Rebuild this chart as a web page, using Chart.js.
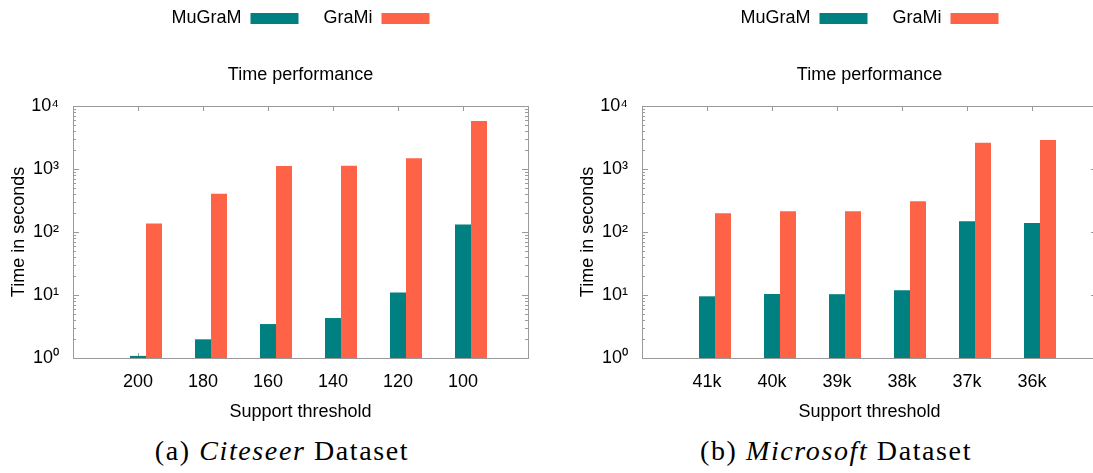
<!DOCTYPE html>
<html>
<head>
<meta charset="utf-8">
<script src="https://cdn.jsdelivr.net/npm/chart.js@4.4.1/dist/chart.umd.min.js"></script>
<style>
  html, body { margin: 0; padding: 0; background: #fff; width: 1093px; height: 473px; overflow: hidden; position: relative; }
  .panel { position: absolute; top: 0; width: 546px; height: 430px; }
  .caption { position: absolute; top: 435px; width: 546px; text-align: center; font-family: "Liberation Serif", serif; font-size: 28px; letter-spacing: 1.6px; color: #000; white-space: nowrap; }
</style>
</head>
<body>
<div class="panel" style="left:0px"><canvas id="c1" width="546" height="430"></canvas></div>
<div class="panel" style="left:569px"><canvas id="c2" width="546" height="430"></canvas></div>
<div class="caption" style="left:9px">(a) <i>Citeseer</i> Dataset</div>
<div class="caption" style="left:563px">(b) <i>Microsoft</i> Dataset</div>
<script>
// ---- data ----
const seriesNames = ['MuGraM', 'GraMi'];
const citeseerThresholds = ['200', '180', '160', '140', '120', '100'];
const citeseerMuGraM = [1.08, 1.98, 3.46, 4.31, 11.0, 132];
const citeseerGraMi = [137, 405, 1116, 1128, 1477, 5780];
const microsoftThresholds = ['41k', '40k', '39k', '38k', '37k', '36k'];
const microsoftMuGraM = [9.53, 10.4, 10.3, 11.9, 148, 139];
const microsoftGraMi = [198, 213, 213, 307, 2617, 2886];
const yTickValues = [1, 10, 100, 1000, 10000];
const yTickLabels = ['10\u2070', '10\u00b9', '10\u00b2', '10\u00b3', '10\u2074'];

const TEAL = '#008080';
const TOMATO = '#ff6347';
const AXIS = '#9a9a9a';
const FONT = '"Liberation Sans", Arial, sans-serif';

// frame + inward ticks (gnuplot style), drawn using the chart's scales
const framePlugin = {
  id: 'frame',
  beforeDatasetsDraw(chart) {
    const {ctx, chartArea: a, scales: {x}} = chart;
    ctx.save();
    ctx.strokeStyle = AXIS; ctx.lineWidth = 1;
    ctx.beginPath();
    for (let i = 1; i < x.ticks.length - 1; i++) {
      const px = Math.round(x.getPixelForValue(i)) + 0.5;
      ctx.moveTo(px, a.bottom); ctx.lineTo(px, a.bottom - 5);
    }
    ctx.stroke();
    ctx.restore();
  },
  afterDatasetsDraw(chart) {
    const {ctx, chartArea: a, scales: {x, y}} = chart;
    ctx.save();
    ctx.strokeStyle = AXIS; ctx.lineWidth = 1;
    ctx.beginPath();
    for (let d = 0; d < yTickValues.length - 1; d++) {
      for (let m = 1; m <= 10; m++) {
        const v = yTickValues[d] * m;
        const py = Math.round(y.getPixelForValue(v)) + 0.5;
        const len = (m === 1 || m === 10) ? 6 : 3;
        ctx.moveTo(a.left, py); ctx.lineTo(a.left + len, py);
        ctx.moveTo(a.right, py); ctx.lineTo(a.right - len, py);
      }
    }
    for (let i = 1; i < x.ticks.length - 1; i++) {
      const px = Math.round(x.getPixelForValue(i)) + 0.5;
      ctx.moveTo(px, a.top); ctx.lineTo(px, a.top + 5);
    }
    ctx.stroke();
    ctx.strokeRect(Math.round(a.left) + 0.5, Math.round(a.top) + 0.5, Math.round(a.width), Math.round(a.height));
    ctx.restore();
  }
};

function makeChart(id, thresholds, mugram, grami) {
  const labels = [''].concat(thresholds, ['']);
  const pad = arr => [null].concat(arr, [null]);
  return new Chart(document.getElementById(id), {
    type: 'bar',
    data: {
      labels: labels,
      datasets: [
        { label: '', data: labels.map(() => null), backgroundColor: 'rgba(0,0,0,0)', borderWidth: 0 },
        { label: seriesNames[0], data: pad(mugram), backgroundColor: TEAL, borderWidth: 0 },
        { label: seriesNames[1], data: pad(grami), backgroundColor: TOMATO, borderWidth: 0 }
      ]
    },
    plugins: [framePlugin],
    options: {
      responsive: false,
      animation: false,
      events: [],
      layout: { padding: { top: -15.5, right: 18, left: 0, bottom: 0 } },
      datasets: { bar: { barPercentage: 1, categoryPercentage: 48 / 65 } },
      plugins: {
        tooltip: { enabled: false },
        legend: {
          display: true,
          position: 'top',
          fullSize: false,
          weight: 3000,
          rtl: true,
          reverse: true,
          labels: {
            filter: item => item.text !== '',
            boxWidth: 48,
            boxHeight: 11,
            padding: 25,
            color: '#000',
            font: { family: FONT, size: 18 }
          }
        },
        title: {
          display: true,
          text: 'Time performance',
          position: 'top',
          fullSize: false,
          color: '#000',
          font: { family: FONT, size: 18, weight: 'normal' },
          padding: { top: 27, bottom: 19.9 }
        }
      },
      scales: {
        x: {
          type: 'category',
          offset: false,
          grid: { display: false, offset: false },
          border: { display: false },
          ticks: { autoSkip: false, maxRotation: 0, minRotation: 0, padding: 5, color: '#000', font: { family: FONT, size: 18 } },
          title: { display: true, text: 'Support threshold', color: '#000', font: { family: FONT, size: 18 }, padding: { top: 0, bottom: 7 } },
          afterFit: s => { s.height = 72; }
        },
        y: {
          type: 'logarithmic',
          min: 1,
          max: 10000,
          grid: { display: false },
          border: { display: false },
          afterBuildTicks: s => { s.ticks = yTickValues.map(v => ({ value: v })); },
          ticks: {
            padding: 6,
            color: '#000',
            font: { family: FONT, size: 18 },
            callback: v => { const i = yTickValues.indexOf(v); return i >= 0 ? yTickLabels[i] : ''; }
          },
          title: { display: true, text: 'Time in seconds', color: '#000', font: { family: FONT, size: 18 }, padding: { top: 8.5, bottom: 0 } },
          afterFit: s => { s.width = 73; }
        }
      }
    }
  });
}

makeChart('c1', citeseerThresholds, citeseerMuGraM, citeseerGraMi);
makeChart('c2', microsoftThresholds, microsoftMuGraM, microsoftGraMi);
</script>
</body>
</html>
